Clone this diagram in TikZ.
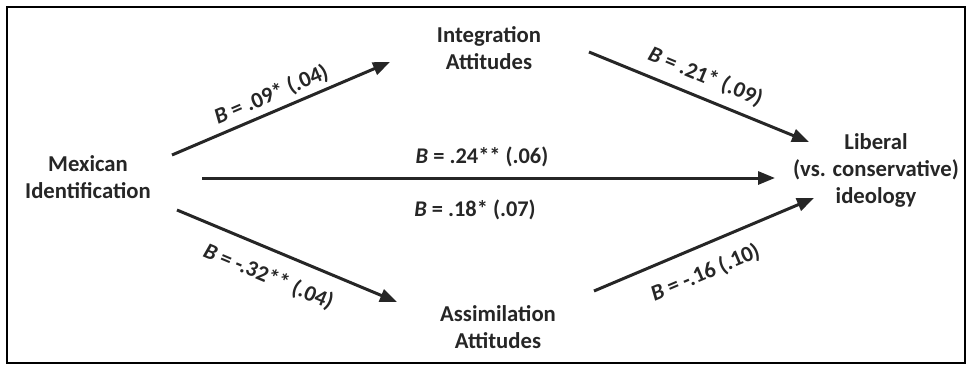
\documentclass[tikz,border=0pt]{standalone}
\usepackage{fontspec}
\setmainfont{Carlito}
\usetikzlibrary{arrows.meta}
\begin{document}
\begin{tikzpicture}[x=1pt,y=-1pt,
  var/.style={font=\fontsize{22.7}{27}\selectfont\bfseries, align=center, inner sep=0pt, anchor=base, text=black!85},
  coef/.style={font=\fontsize{22.4}{26}\selectfont\bfseries, inner sep=0pt, anchor=base, text=black!85},
  path/.style={line width=3pt, black!85, -{Triangle[length=17pt,width=13pt]}}]
\useasboundingbox (0,0) rectangle (968,369);
\draw[line width=2pt] (7,7) rectangle (965,363);
% variables (anchor = baseline of last line)
\node[var] (mex) at (88,198) {Mexican\\Identification};
\node[var] (integ) at (489,69) {Integration\\Attitudes};
\node[var] (assim) at (498,348) {Assimilation\\Attitudes};
\node[var] (lib) at (876,203) {Liberal\\(vs. conservative)\\ideology};
% connector ends
\coordinate (m1) at (172,155);
\coordinate (i1) at (390,62);
\coordinate (i2) at (589,52);
\coordinate (l1) at (809,142);
\coordinate (m2) at (202,178);
\coordinate (l2) at (775,178);
\coordinate (m3) at (177,210);
\coordinate (a1) at (397,302);
\coordinate (a2) at (594,291);
\coordinate (l3) at (814,198);
\draw[path] (m1) -- (i1);
\draw[path] (i2) -- (l1);
\draw[path] (m2) -- (l2);
\draw[path] (m3) -- (a1);
\draw[path] (a2) -- (l3);
% coefficients
\node[coef, rotate=23] (c1) at (274,101) {\textit{B} = .09* (.04)};
\node[coef, rotate=-22.5] (c2) at (703,83) {\textit{B} = .21* (.09)};
\node[coef] (c3) at (482,163) {\textit{B} = .24** (.06)};
\node[coef] (c4) at (475,216) {\textit{B} = .18* (.07)};
\node[coef, rotate=-22.7] (c5) at (266,283) {\textit{B} = -.32** (.04)};
\node[coef, rotate=22.9] (c6) at (708,279) {\textit{B} = -.16 (.10)};
\end{tikzpicture}
\end{document}
